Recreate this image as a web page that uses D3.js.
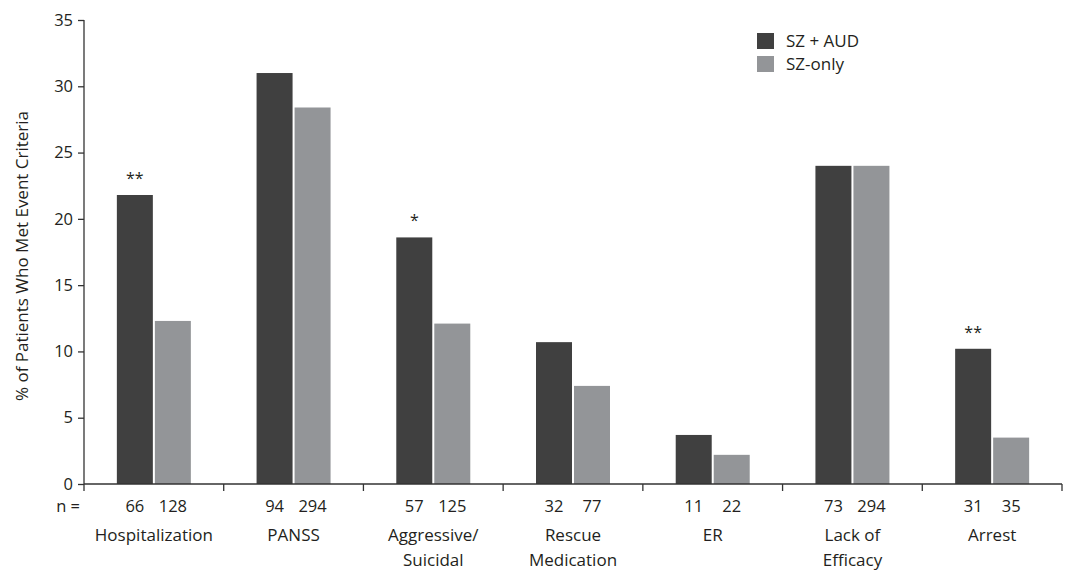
<!DOCTYPE html>
<html>
<head>
<meta charset="utf-8">
<script src="https://cdn.jsdelivr.net/npm/d3@7"></script>
<style>
  body { margin: 0; background: #fff; }
  text { font-family: 'Open Sans', sans-serif; fill: #231f20; }
</style>
</head>
<body>
<div id="chart"></div>
<script>
// categories (label lines) and values
var categories = ["Hospitalization", "PANSS", "Aggressive/Suicidal", "Rescue Medication", "ER", "Lack of Efficacy", "Arrest"];
var labelLines = [["Hospitalization"], ["PANSS"], ["Aggressive/", "Suicidal"], ["Rescue", "Medication"], ["ER"], ["Lack of", "Efficacy"], ["Arrest"]];
var series = ["SZ + AUD", "SZ-only"];
var szAud = [21.8, 31.0, 18.6, 10.7, 3.7, 24.0, 10.2];
var szOnly = [12.3, 28.4, 12.1, 7.4, 2.2, 24.0, 3.5];
var nAud = [66, 94, 57, 32, 11, 73, 31];
var nOnly = [128, 294, 125, 77, 22, 294, 35];
var stars = ["**", "", "*", "", "", "", "**"];
var yTicks = [0, 5, 10, 15, 20, 25, 30, 35];
var colors = ["#404040", "#939598"];

var width = 1080, height = 580;
var svg = d3.select("#chart").append("svg")
    .attr("width", width).attr("height", height);

var x = d3.scaleBand().domain(categories).range([84, 1062]);
var y = d3.scaleLinear().domain([0, 35]).range([484, 20]);
var xs = d3.scaleOrdinal().domain(series).range([-37, 1]);
var barW = 36;

var data = categories.map(function (c, i) {
  return { cat: c, vals: [szAud[i], szOnly[i]], n: [nAud[i], nOnly[i]], star: stars[i], lines: labelLines[i] };
});

// y axis
var yAxis = svg.append("g")
    .attr("transform", "translate(84,0)")
    .call(d3.axisLeft(y).tickValues(yTicks).tickSize(6).tickPadding(5));
yAxis.select(".domain").remove();
yAxis.selectAll("line").attr("stroke", "#333").attr("stroke-width", 1.3);
yAxis.selectAll("text").style("font-size", "16.5px").style("font-family", "'Open Sans', sans-serif").attr("fill", "#231f20");
svg.append("line")
    .attr("x1", 84).attr("x2", 84)
    .attr("y1", y(35)).attr("y2", y(0) + 7)
    .attr("stroke", "#333").attr("stroke-width", 1.3);

// bars
var groups = svg.selectAll(".grp").data(data).enter().append("g")
    .attr("class", "grp")
    .attr("transform", function (d) { return "translate(" + (x(d.cat) + x.bandwidth() / 2) + ",0)"; });

groups.selectAll("rect").data(function (d) { return d.vals.map(function (v, j) { return { s: series[j], v: v }; }); })
  .enter().append("rect")
    .attr("x", function (d) { return xs(d.s); })
    .attr("width", barW)
    .attr("y", function (d) { return y(d.v); })
    .attr("height", function (d) { return y(0) - y(d.v); })
    .attr("fill", function (d, j) { return colors[j]; });

// significance marks
groups.append("text")
    .attr("x", xs(series[0]) + barW / 2)
    .attr("y", function (d) { return y(d.vals[0]) - 11; })
    .attr("text-anchor", "middle")
    .style("font-size", "16px")
    .text(function (d) { return d.star; });

// x axis line and boundary ticks
svg.append("line")
    .attr("x1", 84).attr("x2", 1062)
    .attr("y1", y(0)).attr("y2", y(0))
    .attr("stroke", "#333").attr("stroke-width", 1.3);
svg.selectAll(".xtick").data(categories).enter().append("line")
    .attr("x1", function (c) { return x(c) + x.bandwidth(); })
    .attr("x2", function (c) { return x(c) + x.bandwidth(); })
    .attr("y1", y(0)).attr("y2", y(0) + 7)
    .attr("stroke", "#333").attr("stroke-width", 1.3);

// n labels
svg.append("text")
    .attr("x", 80).attr("y", 512)
    .attr("text-anchor", "end")
    .style("font-size", "16.5px")
    .text("n =");
groups.selectAll(".n").data(function (d) { return d.n; }).enter().append("text")
    .attr("class", "n")
    .attr("x", function (d, j) { return xs(series[j]) + barW / 2; })
    .attr("y", 512)
    .attr("text-anchor", "middle")
    .style("font-size", "16.5px")
    .text(function (d) { return d; });

// category labels
groups.selectAll(".cl").data(function (d) { return d.lines; }).enter().append("text")
    .attr("class", "cl")
    .attr("x", 0)
    .attr("y", function (d, k) { return 541 + k * 25; })
    .attr("text-anchor", "middle")
    .style("font-size", "17px")
    .text(function (d) { return d; });

// y title
svg.append("text")
    .attr("transform", "translate(28,256) rotate(-90)")
    .attr("text-anchor", "middle")
    .style("font-size", "17px")
    .text("% of Patients Who Met Event Criteria");

// legend
var legend = svg.selectAll(".leg").data(series).enter().append("g")
    .attr("transform", function (d, i) { return "translate(757," + (33 + i * 23) + ")"; });
legend.append("rect")
    .attr("width", 17).attr("height", 16)
    .attr("fill", function (d, i) { return colors[i]; });
legend.append("text")
    .attr("x", 29).attr("y", 14)
    .style("font-size", "17px")
    .text(function (d) { return d; });
</script>
</body>
</html>
